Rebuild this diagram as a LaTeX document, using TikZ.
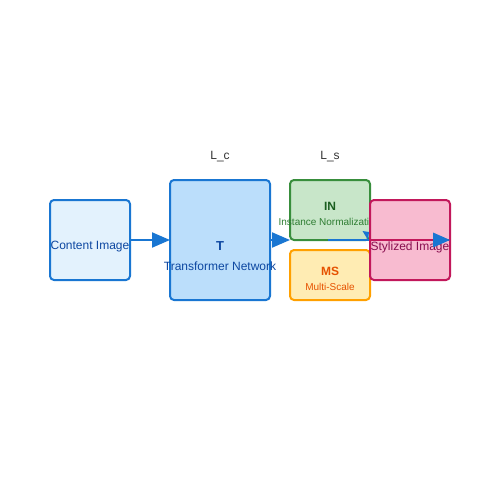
\documentclass[tikz,border=0pt]{standalone}
\usepackage{fontspec}
\setmainfont{Liberation Sans}
\usetikzlibrary{arrows.meta}
\definecolor{cbord}{HTML}{1976D2}
\definecolor{cfill}{HTML}{E3F2FD}
\definecolor{tfill}{HTML}{BBDEFB}
\definecolor{ctext}{HTML}{0D47A1}
\definecolor{infill}{HTML}{C8E6C9}
\definecolor{inbord}{HTML}{388E3C}
\definecolor{intext}{HTML}{1B5E20}
\definecolor{intext2}{HTML}{2E7D32}
\definecolor{msfill}{HTML}{FFECB3}
\definecolor{msbord}{HTML}{FFA000}
\definecolor{mstext}{HTML}{E65100}
\definecolor{stfill}{HTML}{F8BBD0}
\definecolor{stbord}{HTML}{C2185B}
\definecolor{sttext}{HTML}{880E4F}
\definecolor{lbl}{HTML}{333333}
\tikzset{
  box/.style={draw, line width=2pt, rounded corners=4pt},
  flow/.style={draw=cbord, line width=2pt, -{Triangle[length=18pt,width=15pt]}},
  txt/.style={font=\fontsize{12}{14}\selectfont},
  small/.style={font=\fontsize{10}{12}\selectfont},
  bold/.style={font=\fontsize{13}{15}\selectfont\bfseries},
}
\begin{document}
\begin{tikzpicture}[x=1pt,y=-1pt]
\useasboundingbox (0,0) rectangle (500,500);
% boxes
\draw[box, draw=cbord, fill=cfill] (50,200) rectangle (130,280);
\node[txt, text=ctext] (content) at (90,246.5) {Content Image};
\coordinate (cE) at (130,240);
\draw[box, draw=cbord, fill=tfill] (170,180) rectangle (270,300);
\node[bold, text=ctext] (tT) at (220,246) {T};
\node[txt, text=ctext] (tname) at (220,266.5) {Transformer Network};
\coordinate (tW) at (170,240);
\coordinate (tE) at (270,240);
% labels
\node[txt, text=lbl] (lc) at (220,156.5) {L\_c};
\node[txt, text=lbl] (ls) at (330,156.5) {L\_s};
% arrows
\draw[flow] (cE) -- (tW);
\coordinate (inW) at (290,240);
\draw[flow] (tE) -- (inW);
% IN box
\draw[box, draw=inbord, fill=infill] (290,180) rectangle (370,240);
\node[font=\fontsize{12}{14}\selectfont\bfseries, text=intext] (inT) at (330,206.5) {IN};
\node[small, text=intext2] (inname) at (329.5,222) {Instance Normalization};
% MS box
\draw[box, draw=msbord, fill=msfill] (290,250) rectangle (370,300);
\node[font=\fontsize{12}{14}\selectfont\bfseries, text=mstext] (msT) at (330,271.5) {MS};
\node[small, text=mstext] (msname) at (330,287) {Multi-Scale};
% blue line under IN
\coordinate (inB) at (328,240);
\coordinate (stW) at (370,240);
\draw[cbord, line width=2pt] (inB) -- (stW);
\fill[cbord] (362.5,231) -- (369,232) -- (368,240) -- cycle;
% Stylized box
\draw[box, draw=stbord, fill=stfill] (370,200) rectangle (450,280);
\coordinate (stE) at (450,240);
\draw[stbord, line width=1.5pt] (stW) -- (stE);
\node[txt, text=sttext] (st) at (410,247) {Stylized Image};
\fill[cbord] (450,240) -- (433,232.5) -- (433,247.5) -- cycle;
\end{tikzpicture}
\end{document}
